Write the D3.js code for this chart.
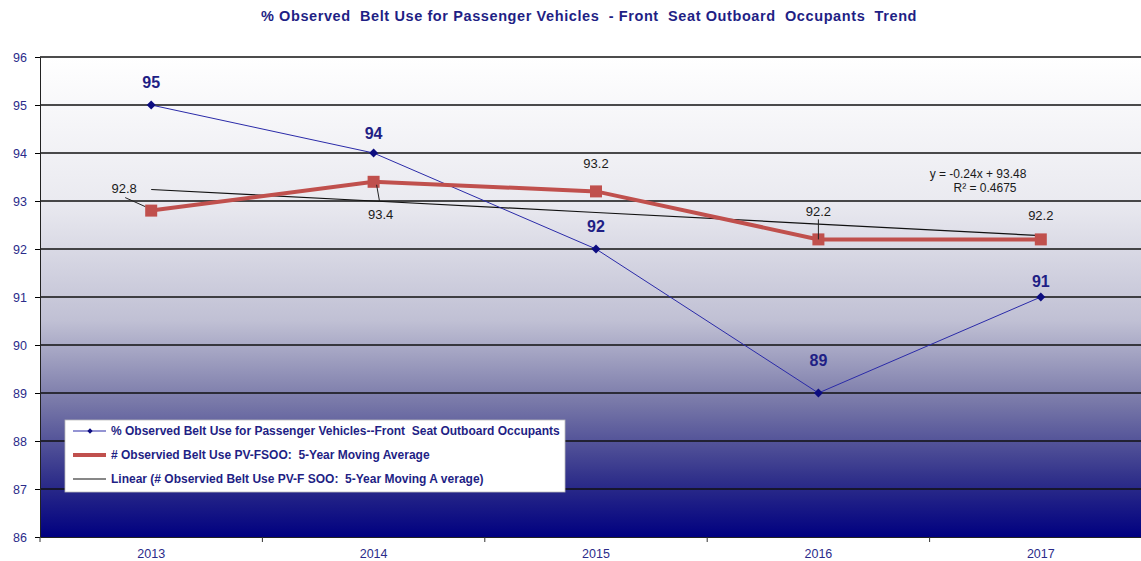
<!DOCTYPE html>
<html lang="en">
<head>
<meta charset="utf-8">
<title>Observed Belt Use Trend</title>
<script src="https://cdn.jsdelivr.net/npm/d3@7"></script>
<style>
  body { margin: 0; background: #fff; }
  svg text { font-family: "Liberation Sans", Arial, sans-serif; }
</style>
</head>
<body>
<svg id="chart" width="1141" height="561"></svg>
<script>
// chart data
var years = ["2013", "2014", "2015", "2016", "2017"];
var observed = [95, 94, 92, 89, 91];
var movingAvg = [92.8, 93.4, 93.2, 92.2, 92.2];
var yTicks = [86, 87, 88, 89, 90, 91, 92, 93, 94, 95, 96];
var trendSlope = -0.24, trendIntercept = 93.48, trendR2 = 0.4675;
var seriesNames = [
    "% Observed Belt Use for Passenger Vehicles--Front  Seat Outboard Occupants",
    "# Observied Belt Use PV-FSOO:  5-Year Moving Average",
    "Linear (# Observied Belt Use PV-F SOO:  5-Year Moving A verage)"
];

var svg = d3.select("#chart");
var plotLeft = 40, plotTop = 57, plotBottom = 537, plotRight = 1152;

var x = d3.scaleBand().domain(years).range([plotLeft, plotRight]);
var y = d3.scaleLinear().domain([86, 96]).range([plotBottom, plotTop]);
function cx(i) { return x(years[i]) + x.bandwidth() / 2; }

/** background gradient of the plot area */
var defs = svg.append("defs");
var grad = defs.append("linearGradient").attr("id", "bg")
    .attr("x1", 0).attr("y1", 0).attr("x2", 0).attr("y2", 1);
[[0, "#ffffff"], [0.3, "#eaeaf0"], [0.55, "#c0c0d4"], [0.72, "#7878a8"], [0.88, "#30308a"], [1, "#000080"]]
    .forEach(function(s) { grad.append("stop").attr("offset", s[0]).attr("stop-color", s[1]); });

svg.append("rect").attr("x", plotLeft).attr("y", plotTop)
    .attr("width", plotRight - plotLeft).attr("height", plotBottom - plotTop)
    .attr("fill", "url(#bg)");

/** gridlines */
svg.append("g").selectAll("line").data(yTicks.slice(1)).enter().append("line")
    .attr("x1", plotLeft).attr("x2", plotRight)
    .attr("y1", function(d) { return y(d); }).attr("y2", function(d) { return y(d); })
    .attr("stroke", "#111").attr("stroke-width", 1.3);

/** axes */
var yAxis = svg.append("g").attr("transform", "translate(" + plotLeft + ",0)")
    .call(d3.axisLeft(y).tickValues(yTicks).tickSize(5).tickSizeOuter(0));
yAxis.select(".domain").attr("stroke", "#222");
yAxis.selectAll("text").attr("fill", "#2b2b8a").attr("font-size", 12.5).attr("dx", -5);

var xAxis = svg.append("g").attr("transform", "translate(0," + plotBottom + ")")
    .call(d3.axisBottom(x).tickSize(0).tickSizeOuter(0));
xAxis.select(".domain").attr("stroke", "#222");
xAxis.selectAll("text").attr("fill", "#2b2b8a").attr("font-size", 12.5).attr("dy", "1.4em");
xAxis.selectAll(".bnd").data(years.concat(["end"])).enter().append("line")
    .attr("x1", function(d, i) { return plotLeft + i * x.bandwidth(); })
    .attr("x2", function(d, i) { return plotLeft + i * x.bandwidth(); })
    .attr("y1", 0).attr("y2", 5).attr("stroke", "#333");

/** trend line */
var trend = years.map(function(_, i) { return trendSlope * (i + 1) + trendIntercept; });
var line = d3.line().x(function(d, i) { return cx(i); }).y(function(d) { return y(d); });
svg.append("path").datum(trend).attr("d", line)
    .attr("fill", "none").attr("stroke", "#111").attr("stroke-width", 1.2);

/** observed series */
svg.append("path").datum(observed).attr("d", line)
    .attr("fill", "none").attr("stroke", "#2a2aa8").attr("stroke-width", 1);
svg.append("g").selectAll("path").data(observed).enter().append("path")
    .attr("d", d3.symbol(d3.symbolSquare, 40))
    .attr("transform", function(d, i) { return "translate(" + cx(i) + "," + y(d) + ") rotate(45)"; })
    .attr("fill", "#0d0d80");

/** moving average series */
svg.append("path").datum(movingAvg).attr("d", line)
    .attr("fill", "none").attr("stroke", "#c0504d").attr("stroke-width", 4);
svg.append("g").selectAll("rect").data(movingAvg).enter().append("rect")
    .attr("x", function(d, i) { return cx(i) - 6; })
    .attr("y", function(d) { return y(d) - 6; })
    .attr("width", 12).attr("height", 12)
    .attr("fill", "#c0504d");

/** observed labels */
var obsDy = [-17, -14, -17, -27, -10];
svg.append("g").selectAll("text").data(observed).enter().append("text")
    .attr("x", function(d, i) { return cx(i); })
    .attr("y", function(d, i) { return y(d) + obsDy[i]; })
    .attr("text-anchor", "middle").attr("font-size", 16).attr("font-weight", "bold")
    .attr("fill", "#1f1f85")
    .text(function(d) { return d; });

/** moving average labels, some with leader lines */
var avgLab = [
    { dx: -27, dy: -18, lead: [[-26, -13], [-6, -4]] },
    { dx: 7, dy: 37, lead: [[3, 3], [6, 20]] },
    { dx: 0, dy: -23, lead: null },
    { dx: 0, dy: -23, lead: [[0, -20], [0, 0]] },
    { dx: 0, dy: -19, lead: null }
];
var avgG = svg.append("g");
movingAvg.forEach(function(d, i) {
    var px = cx(i), py = y(d), o = avgLab[i];
    if (o.lead) {
        avgG.append("line")
            .attr("x1", px + o.lead[0][0]).attr("y1", py + o.lead[0][1])
            .attr("x2", px + o.lead[1][0]).attr("y2", py + o.lead[1][1])
            .attr("stroke", "#222").attr("stroke-width", 1);
    }
    avgG.append("text").attr("x", px + o.dx).attr("y", py + o.dy)
        .attr("text-anchor", "middle").attr("font-size", 13).attr("fill", "#1a1a1a")
        .text(d);
});

/** trendline equation */
var eq = svg.append("g").attr("fill", "#1a1a1a").attr("font-size", 12).attr("text-anchor", "middle");
eq.append("text").attr("x", 978).attr("y", 178)
    .text("y = " + trendSlope + "x + " + trendIntercept);
eq.append("text").attr("x", 985).attr("y", 192).text("R\u00b2 = " + trendR2);

/** legend */
var lg = svg.append("g").attr("transform", "translate(65,420)");
lg.append("rect").attr("width", 500).attr("height", 72)
    .attr("fill", "#fff").attr("stroke", "#bbb").attr("stroke-width", 0.8);
var rows = lg.selectAll(".row").data(seriesNames).enter().append("g")
    .attr("transform", function(d, i) { return "translate(0," + (11 + i * 24) + ")"; });
rows.append("line").attr("x1", 8).attr("x2", 41).attr("y1", 0).attr("y2", 0)
    .attr("stroke", function(d, i) { return ["#2a2aa8", "#c0504d", "#111"][i]; })
    .attr("stroke-width", function(d, i) { return [1.2, 4, 1.2][i]; });
rows.filter(function(d, i) { return i === 0; }).append("path")
    .attr("d", d3.symbol(d3.symbolSquare, 14)).attr("transform", "translate(25,0) rotate(45)")
    .attr("fill", "#0d0d80");
rows.append("text").attr("x", 46).attr("y", 4)
    .attr("font-size", 12).attr("fill", "#1f1f85").attr("font-weight", "bold")
    .style("white-space", "pre")
    .text(function(d) { return d; });

/** title */
svg.append("text").attr("x", 589).attr("y", 21).attr("text-anchor", "middle")
    .attr("font-size", 14.5).attr("font-weight", "bold").attr("fill", "#1f1f85")
    .attr("letter-spacing", 0.6)
    .style("white-space", "pre")
    .text("% Observed  Belt Use for Passenger Vehicles  - Front  Seat Outboard  Occupants  Trend");
</script>
</body>
</html>
